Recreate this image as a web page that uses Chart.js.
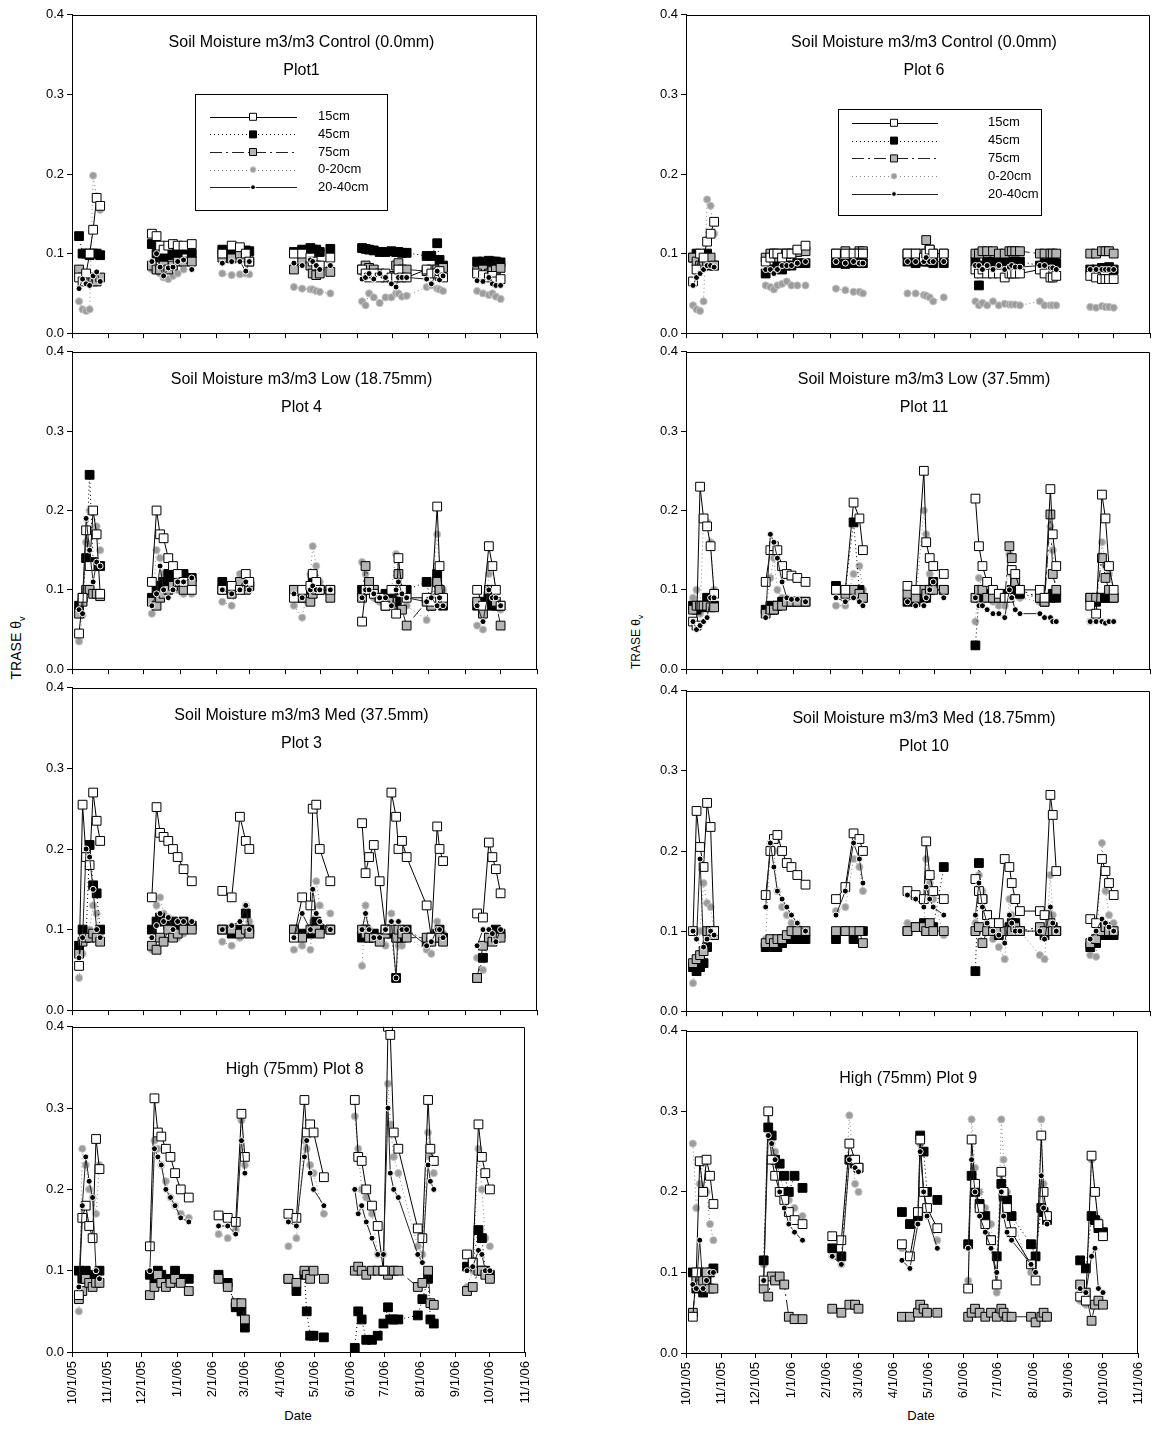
<!DOCTYPE html>
<html>
<head>
<meta charset="utf-8">
<script src="https://cdn.jsdelivr.net/npm/chart.js@4.4.1/dist/chart.umd.min.js"></script>
<style>
  body { margin:0; background:#fff; width:1163px; height:1433px; position:relative; overflow:hidden; font-family:"Liberation Sans", Arial, sans-serif; }
  .ylab { position:absolute; width:80px; height:18px; line-height:18px; text-align:center; font-size:14px; transform:rotate(-90deg); white-space:nowrap; }
  .xlab { position:absolute; width:80px; text-align:center; font-size:13px; }
</style>
</head>
<body>
<div class="ylab" style="left:-24px;top:639px;">TRASE θ<sub style="font-size:9px">v</sub></div>
<div class="ylab" style="left:596px;top:633px;font-size:12px;">TRASE θ<sub style="font-size:8px">v</sub></div>
<div class="xlab" style="left:258px;top:1408px;">Date</div>
<div class="xlab" style="left:881px;top:1408px;">Date</div>
<script>
// days since 10/1/05
var days = [6,9,12,15,18,21,24, 68,72,75,78,82,86,90,95,102, 128,136,143,148,151, 189,196,203,205,208,211,220, 247,250,253,257,262,267,272,276,278,281,285, 302,306,311,313,316, 345,350,355,358,361,365];
var tickDays = [0,31,61,92,123,151,182,212,243,273,304,335,365,396];
var tickLabels = ['10/1/05','11/1/05','12/1/05','1/1/06','2/1/06','3/1/06','4/1/06','5/1/06','6/1/06','7/1/06','8/1/06','9/1/06','10/1/06','11/1/06'];
var seriesNames = ['15cm','45cm','75cm','0-20cm','20-40cm'];

// Plot1
var p1_15 = [0.07,0.065,0.075,0.10,0.13,0.17,0.16, 0.125,0.122,0.11,0.105,0.11,0.112,0.11,0.11,0.112, 0.1,0.11,0.108,0.1,0.09, 0.1,0.1,0.095,0.09,0.085,0.085,0.095, 0.08,0.075,0.07,0.075,0.07,0.075,0.07,0.07,0.08,0.07,0.07, 0.08,0.075,0.075,0.078,0.07, 0.075,0.073,0.07,0.072,0.065,0.068];
var p1_45 = [0.122,0.10,0.10,0.098,0.10,0.10,0.098, 0.112,0.1,0.095,0.095,0.098,0.1,0.1,0.105,0.1, 0.105,0.103,0.105,0.104,0.103, 0.102,0.105,0.107,0.105,0.105,0.102,0.106, 0.107,0.106,0.105,0.104,0.102,0.102,0.103,0.102,0.102,0.101,0.101, 0.097,0.097,0.113,0.092,0.085, 0.09,0.09,0.091,0.09,0.09,0.089];
var p1_75 = [0.08,0.07,0.068,0.07,0.065,0.065,0.07, 0.085,0.08,0.08,0.085,0.08,0.085,0.09,0.09,0.09, 0.095,0.094,0.1,0.095,0.09, 0.08,0.09,0.085,0.075,0.073,0.075,0.077, 0.08,0.085,0.082,0.08,0.075,0.07,0.072,0.085,0.088,0.08,0.08, 0.078,0.08,0.08,0.072,0.082, 0.078,0.08,0.075,0.078,0.08,0.082];
var p1_020 = [0.04,0.03,0.028,0.03,0.198,0.172,0.155, 0.08,0.078,0.075,0.07,0.068,0.072,0.075,0.08,0.09, 0.075,0.073,0.074,0.075,0.074, 0.058,0.056,0.055,0.055,0.053,0.052,0.05, 0.04,0.035,0.05,0.045,0.038,0.045,0.045,0.05,0.05,0.046,0.047, 0.058,0.06,0.056,0.055,0.053, 0.053,0.05,0.048,0.05,0.046,0.043];
var p1_2040 = [0.056,0.068,0.062,0.06,0.072,0.077,0.065, 0.09,0.1,0.083,0.072,0.082,0.083,0.09,0.092,0.08, 0.088,0.09,0.09,0.078,0.09, 0.088,0.085,0.092,0.09,0.085,0.08,0.085, 0.068,0.07,0.075,0.068,0.075,0.07,0.062,0.058,0.07,0.07,0.07, 0.068,0.062,0.078,0.067,0.072, 0.066,0.065,0.07,0.062,0.06,0.06];

// Plot 4
var p4_15 = [0.045,0.09,0.175,0.13,0.2,0.17,0.095, 0.11,0.2,0.17,0.165,0.14,0.13,0.12,0.11,0.1, 0.1,0.105,0.1,0.12,0.11, 0.09,0.1,0.105,0.12,0.11,0.1,0.1, 0.06,0.1,0.1,0.095,0.09,0.08,0.1,0.07,0.14,0.1,0.09, 0.09,0.085,0.205,0.13,0.09, 0.1,0.08,0.155,0.13,0.1,0.08];
var p4_45 = [0.08,0.09,0.14,0.245,0.135,0.13,0.13, 0.09,0.1,0.105,0.11,0.12,0.115,0.11,0.12,0.115, 0.11,0.1,0.105,0.11,0.105, 0.1,0.09,0.1,0.115,0.105,0.1,0.1, 0.1,0.1,0.11,0.1,0.09,0.095,0.09,0.085,0.1,0.1,0.1, 0.11,0.08,0.12,0.1,0.08, 0.08,0.085,0.09,0.08,0.08,0.08];
var p4_75 = [0.07,0.085,0.1,0.1,0.095,0.095,0.092, 0.085,0.08,0.09,0.095,0.1,0.105,0.11,0.1,0.11, 0.1,0.095,0.11,0.1,0.105, 0.1,0.09,0.085,0.095,0.1,0.1,0.09, 0.09,0.13,0.11,0.1,0.09,0.08,0.085,0.1,0.12,0.075,0.055, 0.085,0.08,0.11,0.1,0.085, 0.085,0.07,0.1,0.1,0.085,0.055];
var p4_020 = [0.035,0.068,0.16,0.2,0.2,0.18,0.15, 0.07,0.15,0.14,0.12,0.105,0.1,0.1,0.095,0.095, 0.085,0.08,0.12,0.115,0.1, 0.08,0.065,0.12,0.155,0.13,0.11,0.1, 0.135,0.12,0.1,0.09,0.085,0.09,0.1,0.145,0.12,0.09,0.08, 0.062,0.09,0.17,0.13,0.1, 0.055,0.05,0.12,0.13,0.1,0.075];
var p4_2040 = [0.075,0.07,0.19,0.15,0.11,0.135,0.13, 0.08,0.095,0.13,0.1,0.09,0.1,0.11,0.11,0.115, 0.1,0.095,0.1,0.11,0.1, 0.095,0.09,0.1,0.105,0.1,0.1,0.1, 0.09,0.1,0.1,0.095,0.09,0.09,0.08,0.1,0.11,0.095,0.09, 0.085,0.09,0.08,0.09,0.08, 0.08,0.06,0.1,0.09,0.09,0.08];

// Plot 3
var p3_15 = [0.055,0.255,0.19,0.18,0.27,0.235,0.21, 0.14,0.252,0.22,0.215,0.21,0.2,0.19,0.175,0.16, 0.148,0.14,0.24,0.21,0.2, 0.09,0.14,0.13,0.25,0.255,0.2,0.16, 0.232,0.17,0.19,0.205,0.16,0.1,0.27,0.24,0.2,0.21,0.19, 0.13,0.09,0.228,0.2,0.185, 0.12,0.115,0.208,0.19,0.175,0.145];
var p3_45 = [0.08,0.1,0.09,0.205,0.155,0.145,0.1, 0.1,0.11,0.115,0.11,0.105,0.11,0.1,0.11,0.105, 0.1,0.095,0.1,0.12,0.1, 0.1,0.095,0.095,0.1,0.11,0.1,0.1, 0.09,0.1,0.09,0.095,0.09,0.1,0.095,0.04,0.09,0.09,0.1, 0.085,0.09,0.095,0.1,0.09, 0.04,0.065,0.09,0.09,0.1,0.095];
var p3_75 = [0.07,0.085,0.09,0.09,0.095,0.09,0.085, 0.08,0.075,0.09,0.085,0.1,0.09,0.095,0.1,0.1, 0.1,0.1,0.095,0.1,0.095, 0.1,0.09,0.1,0.1,0.1,0.095,0.1, 0.1,0.095,0.09,0.09,0.085,0.095,0.1,0.09,0.1,0.095,0.09, 0.09,0.085,0.09,0.09,0.085, 0.04,0.08,0.09,0.085,0.09,0.09];
var p3_020 = [0.04,0.07,0.09,0.1,0.13,0.12,0.09, 0.075,0.13,0.14,0.12,0.115,0.1,0.09,0.095,0.1, 0.085,0.08,0.09,0.13,0.11, 0.075,0.08,0.075,0.11,0.16,0.13,0.12, 0.055,0.13,0.1,0.09,0.085,0.08,0.12,0.09,0.08,0.08,0.09, 0.075,0.07,0.11,0.1,0.095, 0.065,0.05,0.09,0.1,0.1,0.09];
var p3_2040 = [0.065,0.09,0.2,0.19,0.15,0.1,0.09, 0.09,0.105,0.12,0.11,0.115,0.1,0.11,0.11,0.11, 0.1,0.105,0.11,0.13,0.1, 0.09,0.12,0.1,0.15,0.12,0.11,0.1, 0.1,0.12,0.1,0.09,0.09,0.1,0.11,0.04,0.11,0.1,0.1, 0.08,0.085,0.1,0.1,0.09, 0.08,0.1,0.1,0.095,0.085,0.1];

// Plot 8
var p8_15 = [0.07,0.165,0.18,0.155,0.14,0.262,0.225, 0.13,0.312,0.27,0.265,0.25,0.24,0.22,0.2,0.19, 0.168,0.165,0.16,0.293,0.24, 0.17,0.165,0.31,0.27,0.28,0.27,0.215, 0.31,0.24,0.235,0.2,0.18,0.155,0.1,0.4,0.39,0.27,0.25, 0.152,0.14,0.31,0.25,0.235, 0.12,0.11,0.28,0.24,0.22,0.2];
var p8_45 = [0.1,0.09,0.1,0.095,0.09,0.085,0.1, 0.095,0.09,0.1,0.095,0.09,0.085,0.1,0.09,0.09, 0.095,0.085,0.055,0.05,0.03, 0.09,0.075,0.095,0.05,0.02,0.02,0.018, 0.005,0.05,0.04,0.015,0.015,0.02,0.035,0.055,0.04,0.04,0.04, 0.045,0.065,0.09,0.04,0.035, 0.105,0.11,0.15,0.14,0.1,0.095];
var p8_75 = [0.065,0.075,0.09,0.085,0.08,0.085,0.085, 0.07,0.08,0.095,0.085,0.08,0.085,0.09,0.085,0.075, 0.09,0.08,0.06,0.06,0.04, 0.09,0.085,0.1,0.095,0.09,0.1,0.09, 0.1,0.105,0.1,0.095,0.1,0.1,0.1,0.095,0.1,0.1,0.1, 0.08,0.085,0.1,0.06,0.058, 0.075,0.08,0.1,0.1,0.095,0.09];
var p8_020 = [0.05,0.25,0.23,0.2,0.19,0.17,0.23, 0.13,0.26,0.25,0.23,0.21,0.19,0.18,0.17,0.165, 0.145,0.14,0.15,0.285,0.23, 0.13,0.14,0.26,0.25,0.23,0.22,0.17, 0.29,0.25,0.2,0.19,0.17,0.12,0.12,0.33,0.28,0.24,0.22, 0.13,0.12,0.27,0.24,0.22, 0.08,0.1,0.25,0.2,0.14,0.13];
var p8_2040 = [0.08,0.18,0.24,0.21,0.19,0.1,0.09, 0.1,0.25,0.24,0.23,0.2,0.19,0.18,0.165,0.16, 0.155,0.155,0.145,0.26,0.22, 0.16,0.155,0.24,0.26,0.22,0.2,0.18, 0.2,0.17,0.18,0.16,0.14,0.12,0.12,0.3,0.22,0.2,0.19, 0.12,0.11,0.23,0.21,0.2, 0.1,0.105,0.125,0.12,0.1,0.1];

// Plot 6
var p6_15 = [0.065,0.08,0.1,0.095,0.115,0.125,0.14, 0.09,0.095,0.1,0.1,0.095,0.1,0.1,0.105,0.11, 0.1,0.1,0.1,0.1,0.1, 0.1,0.1,0.095,0.1,0.105,0.1,0.1, 0.08,0.075,0.08,0.075,0.075,0.075,0.07,0.075,0.075,0.075,0.075, 0.08,0.075,0.07,0.07,0.072, 0.072,0.07,0.068,0.068,0.068,0.068];
var p6_45 = [0.095,0.1,0.09,0.085,0.1,0.085,0.085, 0.075,0.08,0.08,0.085,0.08,0.085,0.085,0.088,0.088, 0.088,0.087,0.088,0.088,0.088, 0.09,0.088,0.09,0.09,0.09,0.088,0.088, 0.09,0.06,0.085,0.09,0.09,0.09,0.09,0.088,0.09,0.09,0.09, 0.085,0.088,0.085,0.09,0.088, 0.08,0.08,0.082,0.082,0.083,0.08];
var p6_75 = [0.095,0.09,0.085,0.085,0.09,0.095,0.085, 0.095,0.1,0.1,0.095,0.1,0.1,0.1,0.102,0.103, 0.1,0.103,0.1,0.103,0.103, 0.1,0.1,0.1,0.117,0.105,0.1,0.1, 0.1,0.1,0.103,0.103,0.103,0.1,0.1,0.103,0.103,0.103,0.103, 0.1,0.1,0.1,0.1,0.1, 0.1,0.1,0.103,0.103,0.103,0.1];
var p6_020 = [0.035,0.03,0.028,0.04,0.168,0.16,0.125, 0.06,0.058,0.055,0.06,0.062,0.065,0.06,0.06,0.06, 0.056,0.054,0.052,0.052,0.05, 0.05,0.05,0.048,0.047,0.045,0.04,0.045, 0.04,0.035,0.038,0.035,0.04,0.035,0.037,0.036,0.036,0.036,0.035, 0.04,0.035,0.035,0.035,0.035, 0.033,0.032,0.034,0.033,0.033,0.032];
var p6_2040 = [0.06,0.07,0.075,0.08,0.085,0.085,0.083, 0.08,0.08,0.075,0.08,0.085,0.085,0.085,0.088,0.09, 0.09,0.088,0.09,0.088,0.088, 0.09,0.09,0.09,0.095,0.09,0.09,0.09, 0.085,0.085,0.08,0.085,0.08,0.085,0.08,0.083,0.085,0.083,0.083, 0.085,0.085,0.082,0.082,0.08, 0.08,0.08,0.08,0.08,0.08,0.08];

// Plot 11
var p11_15 = [0.06,0.055,0.23,0.19,0.18,0.155,0.095, 0.11,0.15,0.155,0.15,0.13,0.12,0.118,0.115,0.11, 0.1,0.1,0.21,0.19,0.15, 0.105,0.1,0.25,0.16,0.14,0.13,0.12, 0.215,0.155,0.13,0.11,0.1,0.095,0.09,0.09,0.125,0.12,0.1, 0.1,0.09,0.227,0.17,0.13, 0.08,0.07,0.22,0.19,0.13,0.1];
var p11_45 = [0.08,0.075,0.08,0.078,0.09,0.08,0.08, 0.075,0.08,0.075,0.08,0.085,0.085,0.085,0.085,0.085, 0.105,0.1,0.185,0.1,0.09, 0.085,0.085,0.09,0.09,0.1,0.11,0.1, 0.03,0.09,0.09,0.095,0.095,0.09,0.095,0.095,0.1,0.1,0.095, 0.09,0.085,0.09,0.095,0.09, 0.09,0.085,0.09,0.09,0.09,0.09];
var p11_75 = [0.075,0.08,0.08,0.08,0.08,0.078,0.078, 0.07,0.075,0.075,0.08,0.08,0.085,0.085,0.085,0.085, 0.1,0.095,0.1,0.095,0.09, 0.095,0.09,0.1,0.095,0.1,0.1,0.1, 0.09,0.1,0.1,0.09,0.09,0.09,0.09,0.155,0.14,0.11,0.1, 0.09,0.085,0.195,0.12,0.1, 0.09,0.09,0.14,0.115,0.1,0.09];
var p11_020 = [0.09,0.1,0.07,0.19,0.185,0.16,0.1, 0.075,0.115,0.14,0.1,0.09,0.09,0.085,0.085,0.085, 0.08,0.08,0.12,0.13,0.1, 0.085,0.085,0.2,0.17,0.12,0.11,0.1, 0.06,0.115,0.1,0.09,0.085,0.08,0.08,0.145,0.12,0.1,0.09, 0.085,0.09,0.18,0.15,0.1, 0.06,0.065,0.16,0.13,0.12,0.1];
var p11_2040 = [0.06,0.05,0.055,0.06,0.065,0.09,0.09, 0.065,0.17,0.16,0.14,0.11,0.09,0.088,0.088,0.085, 0.09,0.085,0.09,0.085,0.08, 0.085,0.08,0.08,0.09,0.1,0.11,0.09, 0.09,0.08,0.08,0.075,0.07,0.07,0.065,0.1,0.09,0.075,0.07, 0.07,0.065,0.065,0.06,0.06, 0.06,0.06,0.06,0.058,0.06,0.06];

// Plot 10
var p10_15 = [0.1,0.25,0.205,0.18,0.26,0.23,0.1, 0.145,0.2,0.215,0.22,0.2,0.185,0.18,0.17,0.158, 0.14,0.155,0.222,0.215,0.2, 0.15,0.145,0.14,0.212,0.17,0.15,0.14, 0.165,0.15,0.14,0.12,0.11,0.11,0.19,0.18,0.16,0.14,0.125, 0.125,0.12,0.27,0.245,0.175, 0.115,0.11,0.19,0.175,0.16,0.145];
var p10_45 = [0.055,0.05,0.055,0.06,0.08,0.1,0.1, 0.08,0.08,0.085,0.08,0.085,0.09,0.09,0.09,0.09, 0.09,0.1,0.09,0.1,0.1, 0.1,0.105,0.11,0.1,0.1,0.105,0.18, 0.05,0.185,0.14,0.12,0.1,0.095,0.1,0.105,0.11,0.11,0.1, 0.1,0.095,0.1,0.105,0.1, 0.08,0.085,0.1,0.095,0.095,0.095];
var p10_75 = [0.06,0.065,0.07,0.075,0.1,0.1,0.095, 0.085,0.09,0.085,0.09,0.09,0.095,0.1,0.1,0.1, 0.1,0.1,0.1,0.1,0.085, 0.1,0.105,0.105,0.1,0.11,0.1,0.1, 0.1,0.105,0.085,0.1,0.1,0.1,0.1,0.1,0.1,0.105,0.1, 0.105,0.1,0.11,0.1,0.1, 0.085,0.09,0.1,0.105,0.1,0.1];
var p10_020 = [0.035,0.06,0.1,0.16,0.135,0.13,0.1, 0.09,0.21,0.2,0.15,0.13,0.12,0.11,0.1,0.095, 0.125,0.13,0.19,0.18,0.15, 0.11,0.105,0.1,0.19,0.16,0.14,0.095, 0.11,0.17,0.15,0.11,0.09,0.08,0.065,0.14,0.12,0.11,0.1, 0.07,0.065,0.17,0.12,0.1, 0.07,0.068,0.21,0.15,0.12,0.11];
var p10_2040 = [0.1,0.09,0.19,0.08,0.09,0.1,0.095, 0.13,0.21,0.18,0.15,0.14,0.13,0.12,0.11,0.1, 0.12,0.15,0.21,0.19,0.16, 0.145,0.14,0.13,0.155,0.14,0.13,0.12, 0.12,0.16,0.13,0.11,0.1,0.095,0.085,0.12,0.11,0.1,0.1, 0.1,0.09,0.13,0.11,0.1, 0.09,0.1,0.115,0.11,0.105,0.1];

// Plot 9
var p9_15 = [0.045,0.1,0.238,0.2,0.24,0.22,0.185, 0.09,0.3,0.24,0.22,0.2,0.19,0.175,0.165,0.16, 0.145,0.14,0.26,0.24,0.23, 0.135,0.12,0.175,0.265,0.2,0.18,0.155, 0.08,0.265,0.21,0.18,0.16,0.14,0.085,0.225,0.2,0.18,0.15, 0.11,0.09,0.27,0.2,0.17, 0.07,0.065,0.245,0.2,0.16,0.145];
var p9_45 = [0.1,0.08,0.1,0.075,0.09,0.1,0.105, 0.115,0.28,0.27,0.24,0.235,0.22,0.2,0.22,0.205, 0.13,0.12,0.24,0.235,0.23, 0.175,0.16,0.17,0.27,0.25,0.2,0.19, 0.135,0.22,0.2,0.185,0.17,0.14,0.12,0.21,0.195,0.19,0.17, 0.135,0.12,0.18,0.175,0.165, 0.115,0.105,0.17,0.165,0.155,0.15];
var p9_75 = [0.05,0.09,0.085,0.09,0.1,0.08,0.08, 0.08,0.07,0.095,0.09,0.095,0.085,0.045,0.042,0.042, 0.055,0.05,0.06,0.06,0.055, 0.045,0.045,0.05,0.06,0.055,0.05,0.05, 0.045,0.05,0.055,0.05,0.045,0.05,0.045,0.055,0.05,0.045,0.045, 0.045,0.038,0.045,0.05,0.045, 0.085,0.075,0.04,0.06,0.065,0.06];
var p9_020 = [0.26,0.18,0.21,0.24,0.2,0.16,0.14, 0.11,0.3,0.26,0.25,0.22,0.2,0.19,0.18,0.17, 0.12,0.11,0.295,0.21,0.2, 0.13,0.12,0.17,0.26,0.2,0.17,0.14, 0.09,0.29,0.23,0.2,0.18,0.16,0.075,0.29,0.24,0.2,0.17, 0.1,0.09,0.29,0.21,0.17, 0.065,0.06,0.24,0.2,0.165,0.15];
var p9_2040 = [0.085,0.08,0.14,0.08,0.09,0.1,0.1, 0.09,0.27,0.26,0.24,0.2,0.18,0.16,0.15,0.14, 0.12,0.11,0.24,0.23,0.225, 0.115,0.105,0.16,0.25,0.2,0.17,0.13, 0.13,0.24,0.2,0.17,0.15,0.13,0.1,0.2,0.17,0.15,0.14, 0.11,0.1,0.22,0.18,0.16, 0.08,0.075,0.12,0.13,0.08,0.075];

var styles = [
  {borderColor:'#000', borderDash:[], pointStyle:'rect', pointRadius:6.2, pointBackgroundColor:'#fff', pointBorderColor:'#000', order:1},
  {borderColor:'#000', borderDash:[1,3], pointStyle:'rect', pointRadius:6.2, pointBackgroundColor:'#000', pointBorderColor:'#000', order:3},
  {borderColor:'#222', borderDash:[12,4,2,4], pointStyle:'rect', pointRadius:6.2, pointBackgroundColor:'#b4b4b4', pointBorderColor:'#000', order:2},
  {borderColor:'#888', borderDash:[1,3], pointStyle:'circle', pointRadius:3.6, pointBackgroundColor:'#9c9c9c', pointBorderColor:'#c4c4c4', order:4},
  {borderColor:'#222', borderDash:[], pointStyle:'circle', pointRadius:3, pointBackgroundColor:'#000', pointBorderColor:'#fff', order:0}
];

var legendLeft = {x:123, y:79, w:192, h:116, y0:23, step:17.6, l0:15, l1:102, mx:58, tx:123};
var legendRight = {x:152, y:94, w:203, h:106, y0:14, step:17.8, l0:14, l1:100, mx:56, tx:150};

var panels = [
  {left:72, top:14, bottom:336, width:465, title:['Soil Moisture m3/m3 Control (0.0mm)','Plot1'], dx:-3, series:[p1_15,p1_45,p1_75,p1_020,p1_2040], legend:legendLeft},
  {left:72, top:351, bottom:672, width:465, title:['Soil Moisture m3/m3 Low (18.75mm)','Plot 4'], dx:-3, series:[p4_15,p4_45,p4_75,p4_020,p4_2040]},
  {left:72, top:687, bottom:1013, width:465, title:['Soil Moisture m3/m3 Med (37.5mm)','Plot 3'], dx:-3, series:[p3_15,p3_45,p3_75,p3_020,p3_2040]},
  {left:72, top:1026, bottom:1352, width:465, title:['High (75mm) Plot 8'], dx:-4, titleY:43, series:[p8_15,p8_45,p8_75,p8_020,p8_2040], labels:true},
  {left:686, top:14, bottom:336, width:464, title:['Soil Moisture m3/m3 Control (0.0mm)','Plot 6'], dx:6, series:[p6_15,p6_45,p6_75,p6_020,p6_2040], legend:legendRight},
  {left:686, top:351, bottom:672, width:464, title:['Soil Moisture m3/m3 Low (37.5mm)','Plot 11'], dx:6, series:[p11_15,p11_45,p11_75,p11_020,p11_2040]},
  {left:686, top:690, bottom:1014, width:464, title:['Soil Moisture m3/m3 Med (18.75mm)','Plot 10'], dx:6, series:[p10_15,p10_45,p10_75,p10_020,p10_2040]},
  {left:686, top:1030, bottom:1353, width:464, title:['High (75mm) Plot 9'], dx:-4, titleY:48, series:[p9_15,p9_45,p9_75,p9_020,p9_2040], labels:true}
];

Chart.defaults.font.family = '"Liberation Sans", Arial, sans-serif';
Chart.defaults.color = '#000';

var panelText = {
  id: 'panelText',
  afterDraw: function(chart, args, opts) {
    var ctx = chart.ctx, a = chart.chartArea;
    ctx.save();
    ctx.strokeStyle = '#000';
    ctx.lineWidth = 1;
    ctx.beginPath();
    ctx.moveTo(Math.round(a.left) + 0.5, Math.round(a.top) + 0.5);
    ctx.lineTo(Math.round(a.right) - 0.5, Math.round(a.top) + 0.5);
    ctx.lineTo(Math.round(a.right) - 0.5, Math.round(a.bottom));
    ctx.stroke();
    ctx.fillStyle = '#000';
    ctx.font = '16px "Liberation Sans", Arial, sans-serif';
    ctx.textAlign = 'center';
    ctx.textBaseline = 'middle';
    var cx = (a.left + a.right) / 2 + opts.dx;
    if (opts.title.length == 2) {
      ctx.fillText(opts.title[0], cx, a.top + 28);
      ctx.fillText(opts.title[1], cx, a.top + 56);
    } else {
      ctx.fillText(opts.title[0], cx, a.top + opts.titleY);
    }
    var lg = opts.legend;
    if (lg) {
      var lx = a.left + lg.x, ly = a.top + lg.y;
      ctx.strokeRect(Math.round(lx) + 0.5, Math.round(ly) + 0.5, lg.w, lg.h);
      ctx.font = '13px "Liberation Sans", Arial, sans-serif';
      ctx.textAlign = 'left';
      chart.data.datasets.forEach(function(ds, i) {
        var y = ly + lg.y0 + i * lg.step;
        ctx.strokeStyle = ds.borderColor;
        ctx.setLineDash(ds.borderDash);
        ctx.beginPath();
        ctx.moveTo(lx + lg.l0, Math.round(y) + 0.5);
        ctx.lineTo(lx + lg.l1, Math.round(y) + 0.5);
        ctx.stroke();
        ctx.setLineDash([]);
        ctx.fillStyle = ds.pointBackgroundColor;
        ctx.strokeStyle = ds.pointBorderColor;
        Chart.helpers.drawPoint(ctx, {pointStyle: ds.pointStyle, radius: ds.pointRadius * 0.8, borderWidth: 1}, lx + lg.mx, y);
        ctx.fillStyle = '#000';
        ctx.fillText(ds.label, lx + lg.tx, y);
      });
    }
    ctx.restore();
  }
};

var PADL = 60, PADT = 10, PADR = 8;

panels.forEach(function(p) {
  var xh = p.labels ? 72 : 8;
  var w = PADL + p.width + PADR, h = PADT + (p.bottom - p.top) + xh;
  var cv = document.createElement('canvas');
  cv.width = w; cv.height = h;
  cv.style.cssText = 'position:absolute;left:' + (p.left - PADL) + 'px;top:' + (p.top - PADT) + 'px;width:' + w + 'px;height:' + h + 'px';
  document.body.appendChild(cv);

  var datasets = styles.map(function(s, i) {
    return Object.assign({
      label: seriesNames[i],
      data: days.map(function(d, j) { return {x: d, y: p.series[i][j]}; }),
      borderWidth: 1,
      pointBorderWidth: 1,
      fill: false,
      tension: 0,
      segment: { borderColor: function(c) { return c.p1.parsed.x - c.p0.parsed.x > 20 ? 'rgba(0,0,0,0)' : undefined; } }
    }, s);
  });

  new Chart(cv, {
    type: 'line',
    data: { datasets: datasets },
    options: {
      responsive: false,
      animation: false,
      devicePixelRatio: 1,
      layout: { padding: { left: 0, top: PADT, right: PADR, bottom: 0 } },
      plugins: {
        legend: { display: false },
        tooltip: { enabled: false },
        panelText: { title: p.title, titleY: p.titleY, dx: p.dx, legend: p.legend }
      },
      scales: {
        x: {
          type: 'linear', min: 0, max: 396,
          afterBuildTicks: function(s) { s.ticks = tickDays.map(function(v) { return {value: v}; }); },
          afterFit: function(s) { s.height = xh; },
          ticks: { display: !!p.labels, autoSkip: false, maxRotation: 90, minRotation: 90, padding: 4,
                   font: { size: 13 }, callback: function(v, i) { return tickLabels[i]; } },
          grid: { drawOnChartArea: false, tickLength: 5, color: '#000' },
          border: { color: '#000' }
        },
        y: {
          min: 0, max: 0.4,
          afterFit: function(s) { s.width = PADL; },
          ticks: { stepSize: 0.1, padding: 3, font: { size: 13 }, callback: function(v) { return v.toFixed(1); } },
          grid: { drawOnChartArea: false, tickLength: 5, color: '#000' },
          border: { color: '#000' }
        }
      }
    },
    plugins: [panelText]
  });
});
</script>
</body>
</html>
